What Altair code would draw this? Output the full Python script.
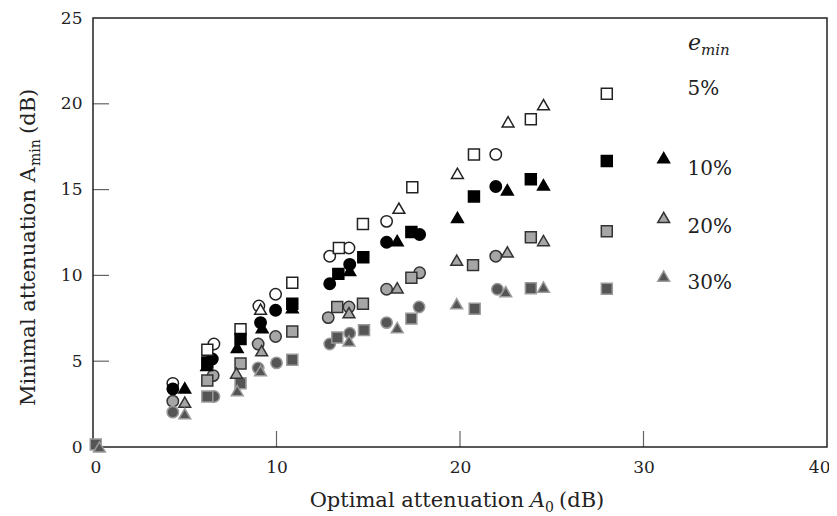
import altair as alt
import pandas as pd

# ---- data ----
levels = ["5%", "10%", "20%", "30%"]
shapes = ["circle", "square", "triangle"]

# 5 %  (white)
w_circle_x = [4.35, 6.59, 9.04, 9.95, 12.9, 13.95, 16.0, 21.95]
w_circle_y = [3.71, 6.0, 8.22, 8.9, 11.12, 11.6, 13.15, 17.05]
w_square_x = [6.23, 8.04, 10.86, 13.4, 14.71, 17.4, 20.76, 23.86, 28.0]
w_square_y = [5.67, 6.87, 9.57, 11.6, 13.0, 15.14, 17.05, 19.1, 20.59]
w_tri_x = [9.13, 16.67, 19.86, 22.62, 24.55]
w_tri_y = [8.03, 13.92, 15.95, 18.95, 19.95]

# 10 % (black)
b_circle_x = [4.35, 6.5, 9.13, 9.95, 12.9, 13.99, 16.0, 17.8, 21.95]
b_circle_y = [3.39, 5.13, 7.25, 7.97, 9.51, 10.64, 11.93, 12.38, 15.18]
b_square_x = [6.23, 8.04, 10.86, 13.37, 14.73, 17.35, 20.76, 23.86, 28.0]
b_square_y = [4.93, 6.29, 8.35, 10.09, 11.06, 12.53, 14.6, 15.6, 16.67]
b_tri_x = [5.0, 6.2, 7.86, 9.22, 10.86, 13.99, 16.58, 19.86, 22.58, 24.55, 31.1]
b_tri_y = [3.44, 4.75, 5.8, 6.96, 8.12, 10.29, 12.03, 13.38, 14.99, 15.28, 16.86]

# 20 % (light grey)
g_circle_x = [4.35, 6.55, 9.0, 9.95, 12.82, 13.95, 16.0, 17.8, 21.95]
g_circle_y = [2.67, 4.16, 6.0, 6.44, 7.54, 8.16, 9.19, 10.15, 11.12]
g_square_x = [6.23, 8.04, 10.86, 13.31, 14.71, 17.35, 20.71, 23.86, 28.0]
g_square_y = [3.87, 4.87, 6.73, 8.16, 8.35, 9.86, 10.6, 12.22, 12.57]
g_tri_x = [5.0, 7.82, 9.19, 13.95, 16.58, 19.82, 22.58, 24.55, 31.1]
g_tri_y = [2.61, 4.31, 5.61, 7.83, 9.28, 10.89, 11.37, 12.03, 13.38]

# 30 % (dark grey)
d_circle_x = [4.35, 6.59, 9.0, 10.0, 12.9, 13.99, 16.0, 17.77, 22.04]
d_circle_y = [2.03, 2.94, 4.6, 4.9, 6.0, 6.63, 7.25, 8.16, 9.19]
d_square_x = [0.15, 6.23, 8.04, 10.86, 13.31, 14.77, 17.35, 20.8, 23.86, 28.0]
d_square_y = [0.15, 2.94, 3.71, 5.09, 6.38, 6.81, 7.48, 8.06, 9.25, 9.22]
d_tri_x = [0.35, 5.0, 7.86, 9.13, 13.95, 16.58, 19.82, 22.49, 24.55, 31.1]
d_tri_y = [0.0, 1.94, 3.29, 4.45, 6.19, 6.96, 8.35, 9.05, 9.32, 9.96]

x_tick_values = [0, 10, 20, 30, 40]
y_tick_values = [0, 5, 10, 15, 20, 25]
inner_x_ticks = [10, 20, 30]
inner_y_ticks = [5, 10, 15, 20]

label_text = ["5%", "10%", "20%", "30%"]
label_x = [32.4, 32.4, 32.4, 32.4]
label_y = [20.88, 16.19, 12.81, 9.57]

# ---- build table ----
series = [
    ("5%", "circle", w_circle_x, w_circle_y), ("5%", "square", w_square_x, w_square_y), ("5%", "triangle", w_tri_x, w_tri_y),
    ("10%", "circle", b_circle_x, b_circle_y), ("10%", "square", b_square_x, b_square_y), ("10%", "triangle", b_tri_x, b_tri_y),
    ("20%", "circle", g_circle_x, g_circle_y), ("20%", "square", g_square_x, g_square_y), ("20%", "triangle", g_tri_x, g_tri_y),
    ("30%", "circle", d_circle_x, d_circle_y), ("30%", "square", d_square_x, d_square_y), ("30%", "triangle", d_tri_x, d_tri_y),
]
rows = []
for lev, shp, xs, ys in series:
    for xv, yv in zip(xs, ys):
        rows.append({"level": lev, "shape": shp, "A0": xv, "Amin": yv})
df = pd.DataFrame(rows)

W, H = 734, 429
FONT = "DejaVu Serif"
TXT = "#222222"

xscale = alt.Scale(domain=[0, 40], nice=False, zero=False)
yscale = alt.Scale(domain=[0, 25], nice=False, zero=False)

xaxis = alt.Axis(values=x_tick_values, ticks=False, domain=False, grid=False, format="d",
                 labelFlush=True, labelFlushOffset=3,
                 labelFont=FONT, labelFontSize=17, labelColor=TXT, labelPadding=12, title=None)
yaxis = alt.Axis(values=y_tick_values, ticks=False, domain=False, grid=False, format="d", labelFlush=False,
                 labelFont=FONT, labelFontSize=17, labelColor=TXT, labelPadding=11, title=None)

fill_scale = alt.Scale(domain=levels, range=["#ffffff", "#000000", "#a6a6a6", "#555555"])
stroke_scale = alt.Scale(domain=levels, range=["#222222", "#000000", "#333333", "#9a9a9a"])

def pts(shape_name, vega_shape, size):
    return alt.Chart(df[df["shape"] == shape_name]).mark_point(
        shape=vega_shape, filled=True, size=size, strokeWidth=1.5, opacity=1
    ).encode(
        x=alt.X("A0:Q", scale=xscale, axis=xaxis),
        y=alt.Y("Amin:Q", scale=yscale, axis=yaxis),
        fill=alt.Fill("level:N", scale=fill_scale, legend=None),
        stroke=alt.Stroke("level:N", scale=stroke_scale, legend=None),
    )

circles = pts("circle", "circle", 130)
squares = pts("square", "square", 120)
triangles = pts("triangle", "triangle-up", 140)

xt = alt.Chart(pd.DataFrame({"A0": inner_x_ticks})).mark_tick(
    orient="vertical", size=16, thickness=1.2, color=TXT
).encode(x=alt.X("A0:Q", scale=xscale, axis=xaxis), y=alt.value(H - 8))

yt = alt.Chart(pd.DataFrame({"Amin": inner_y_ticks})).mark_tick(
    orient="horizontal", size=16, thickness=1.2, color=TXT
).encode(y=alt.Y("Amin:Q", scale=yscale, axis=yaxis), x=alt.value(8))

labels = alt.Chart(pd.DataFrame({"t": label_text, "A0": label_x, "Amin": label_y})).mark_text(
    font=FONT, fontSize=20, align="left", baseline="middle", color=TXT
).encode(x=alt.X("A0:Q", scale=xscale, axis=xaxis), y=alt.Y("Amin:Q", scale=yscale, axis=yaxis), text="t:N")

def txt(t, x, y, size, style="normal", angle=0, align="left"):
    kw = dict(font=FONT, fontSize=size, fontStyle=style, align=align, baseline="alphabetic", color=TXT)
    if angle:
        kw["angle"] = angle
    return alt.Chart(pd.DataFrame({"t": [t]})).mark_text(**kw).encode(
        x=alt.value(x), y=alt.value(y), text="t:N")

# header e_min
e_head = txt("e", 595, 32, 22, "italic")
min_head = txt("min", 608, 37, 15, "italic")

# x title pieces
xt1 = txt("Optimal attenuation", 431, 489, 21, align="right")
xt2 = txt("A", 437, 489, 21, "italic")
xt3 = txt("0", 452, 494, 14)
xt4 = txt("(dB)", 466, 489, 21)

# y title pieces (rotated, reading upward)
yt1 = txt("Minimal attenuation A", -58, 388, 21, angle=270)
yt2 = txt("min", -53, 148, 14, angle=270)
yt3 = txt("(dB)", -58, 116, 21, angle=270)

chart = alt.layer(
    circles, squares, triangles, xt, yt, labels, e_head, min_head,
    xt1, xt2, xt3, xt4, yt1, yt2, yt3
).properties(
    width=W, height=H,
    background="white",
    autosize=alt.AutoSizeParams(type="none"),
    padding={"left": 85, "top": 10, "right": 2, "bottom": 69},
).configure_view(stroke="#222222", strokeWidth=1.5)

chart.save("out.html", embed_options={"renderer": "svg", "actions": False})
